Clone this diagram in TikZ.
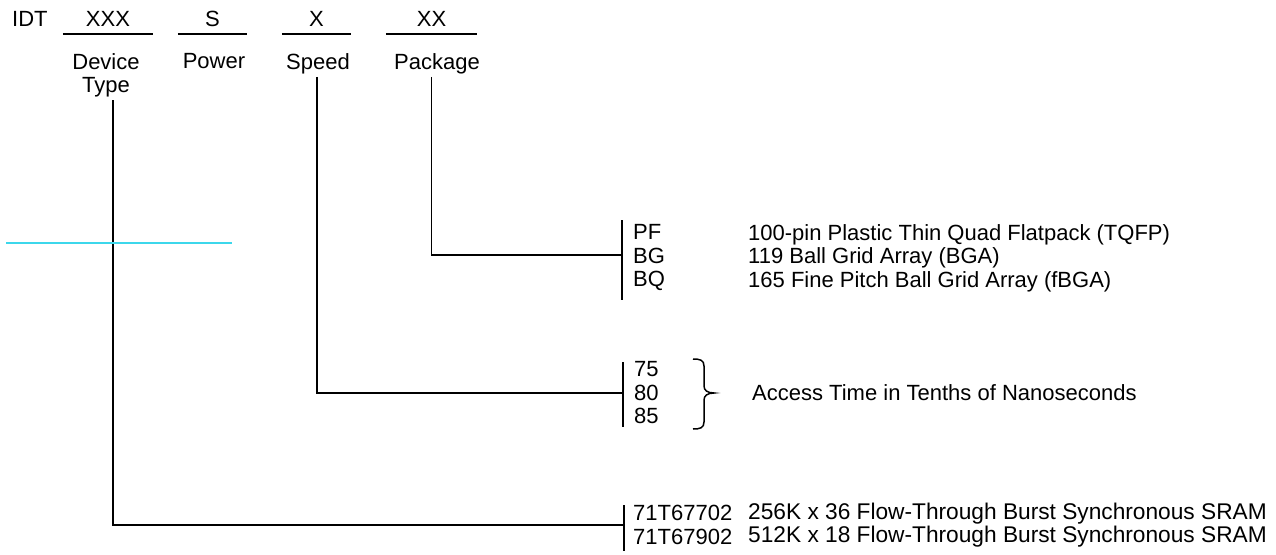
\documentclass[tikz,border=0pt]{standalone}
\usepackage{fontspec}
\setmainfont{Liberation Sans}
\newcommand{\partfont}{\fontsize{22}{23.5}\selectfont}
\newcommand{\devfont}{\fontsize{22.7}{23.5}\selectfont}
\definecolor{strayline}{RGB}{60,215,235}

\begin{document}
\begin{tikzpicture}[
        x=1pt, y=-1pt,
        every node/.style={font=\partfont, inner sep=0pt},
        field/.style={anchor=base, inner xsep=0pt, inner ysep=8pt, text depth=0pt},
        fieldlabel/.style={anchor=north, align=center, inner sep=3pt},
        option/.style={anchor=west, align=left},
        leader/.style={line width=1.6pt},
        optbar/.style={line width=1.5pt},
        stray/.style={draw=strayline, line width=1.1pt}
        ]
        \useasboundingbox (0,0) rectangle (1276,554);

        % part number fields
        \node[anchor=base west] (idt) at (12,26) {IDT};
        \node[field, minimum width=90pt] (fdev) at (108,26) {XXX};
        \node[field, minimum width=69pt] (fpow) at (212.5,26) {S};
        \node[field, minimum width=69pt] (fspd) at (316.5,26) {X};
        \node[field, minimum width=91pt] (fpkg) at (431.5,26) {XX};
        \foreach \f in {fdev,fpow,fspd,fpkg}
            \draw[optbar] (\f.south west) -- (\f.south east);

        \node[fieldlabel] (ldev) at (106,50) {Device\\Type};
        \node[fieldlabel] (lpow) at (214,50) {Power};
        \node[fieldlabel] (lspd) at (318,50) {Speed};
        \node[fieldlabel] (lpkg) at (437,50) {Package};

        % package options
        \node[option] (pkgcodes) at (633,258) {PF\\BG\\BQ};
        \node[option] (pkgdesc) at (748,258) {100-pin Plastic Thin Quad Flatpack (TQFP)\\119 Ball Grid Array (BGA)\\165 Fine Pitch Ball Grid Array (fBGA)};
        \coordinate (pkgjoin) at (622,255);
        \draw[optbar] (622,220) -- (622,300);
        \draw[leader] (lpkg.south -| fpkg) |- (pkgjoin);

        % speed options
        \node[option] (spdcodes) at (634,393) {75\\80\\85};
        \node[option] (spddesc) at (752,393) {Access Time in Tenths of Nanoseconds};
        \coordinate (spdjoin) at (623,393);
        \draw[optbar] (623,362) -- (623,427);
        \draw[leader] ([xshift=-1pt]lspd.south) |- (spdjoin);
        \draw[optbar] (693,359) .. controls (700,359) and (704,360) .. (704,366) -- (704,386)
            .. controls (704,390) and (707,393) .. (714,393)
            .. controls (707,393) and (704,396) .. (704,400) -- (704,422)
            .. controls (704,428) and (700,429) .. (693,429);

        % device type options
        \node[option] (devcodes) at (633,525) {71T67702\\71T67902};
        \node[option, font=\devfont] (devdesc) at (748,525) {256K x 36 Flow-Through Burst Synchronous SRAM\\512K x 18 Flow-Through Burst Synchronous SRAM};
        \coordinate (devjoin) at (624,525);
        \draw[optbar] (624,505) -- (624,551);
        \draw[leader] ([xshift=7pt]ldev.south) |- (devjoin);

        \draw[stray] (6,243) -- (232,243);
    \end{tikzpicture}
\end{document}
